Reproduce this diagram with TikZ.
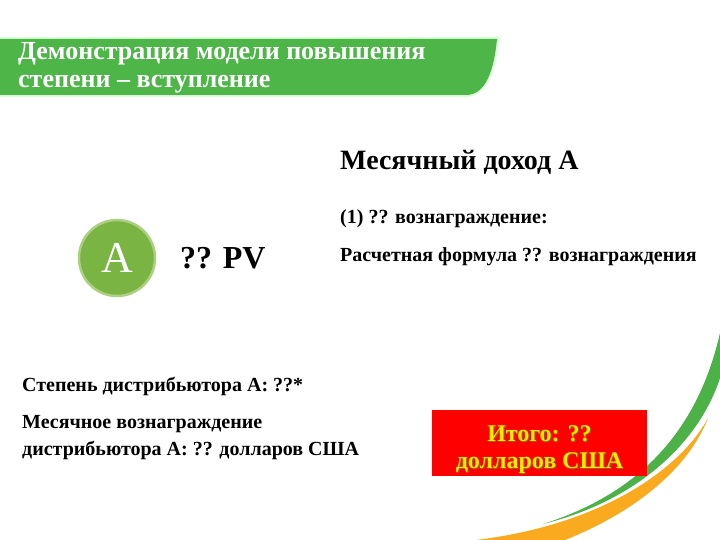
\documentclass[tikz,border=0pt]{standalone}
\usepackage{fontspec}
\setmainfont{Liberation Serif}
\definecolor{bannergreen}{RGB}{78,182,72}
\definecolor{circfill}{RGB}{122,180,66}
\definecolor{circedge}{RGB}{170,208,128}
\definecolor{swgreen}{RGB}{76,178,72}
\definecolor{sworange}{RGB}{250,170,30}
\definecolor{boxred}{RGB}{255,0,0}
\definecolor{boxtext}{RGB}{250,235,0}
\definecolor{boxshadow}{RGB}{160,90,0}
\tikzset{
  txt/.style={anchor=base west, inner sep=0pt, font=\bfseries\fontsize{#1}{#1}\selectfont},
  ttl/.style={anchor=base west, inner sep=0pt, text=white, font=\bfseries\fontsize{26}{26}\selectfont},
  redtxt/.style={anchor=base, inner sep=0pt, text=boxtext, font=\bfseries\fontsize{24}{24}\selectfont},
  redshadow/.style={anchor=base, inner sep=0pt, text=boxshadow, font=\bfseries\fontsize{24}{24}\selectfont}
}
\begin{document}
\begin{tikzpicture}[x=1pt,y=-1pt]
\useasboundingbox (0,0) rectangle (720,540);
\fill[white] (0,0) rectangle (720,540);
% banner
\fill[green!15] (0,37) -- (499,37) .. controls (496,70) and (488,96) .. (466,97) -- (0,97) -- cycle;
\fill[bannergreen] (0,39) -- (497,39) .. controls (494,70) and (486,95) .. (466,95) -- (0,95) -- cycle;
\node[ttl] (t1) at (18,60) {Демонстрация модели повышения};
\node[ttl] (t2) at (18,88) {степени – вступление};
% swooshes
\fill[swgreen] (720,333) .. controls (700,420) and (650,490) .. (543,524)
  .. controls (640,500) and (700,440) .. (720,378) -- cycle;
\fill[sworange] (708,418) .. controls (680,470) and (600,525) .. (476,540)
  -- (565,540) .. controls (640,510) and (690,465) .. (708,418) -- cycle;
% circle A
\node[circle, minimum size=76pt, fill=circfill, draw=circedge, line width=2.5pt,
  text=white, font=\fontsize{44}{44}\selectfont, inner sep=0pt] (A) at (117,258) {A};
\node[txt=32] (pv) at (180,268) {?? PV};
% right texts
\node[txt=28] (inc) at (340,170) {Месячный доход А};
\node[txt=20] (r1) at (340,223) {(1) ?? вознаграждение:};
\node[txt=20] (r2) at (340,261) {Расчетная формула ?? вознаграждения};
% left texts
\node[txt=20] (l1) at (22,391) {Степень дистрибьютора А: ??*};
\node[txt=20] (l2) at (22,428) {Месячное вознаграждение};
\node[txt=20] (l3) at (22,455) {дистрибьютора А: ?? долларов США};
% red box
\node[fill=boxred, minimum width=215pt, minimum height=66pt, inner sep=0pt] (box) at (539.5,443) {};
\node[redshadow] (b1s) at (540.5,442) {Итого: ??};
\node[redshadow] (b2s) at (540.5,469) {долларов США};
\node[redtxt] (b1) at (539.5,441) {Итого: ??};
\node[redtxt] (b2) at (539.5,468) {долларов США};
\end{tikzpicture}
\end{document}
